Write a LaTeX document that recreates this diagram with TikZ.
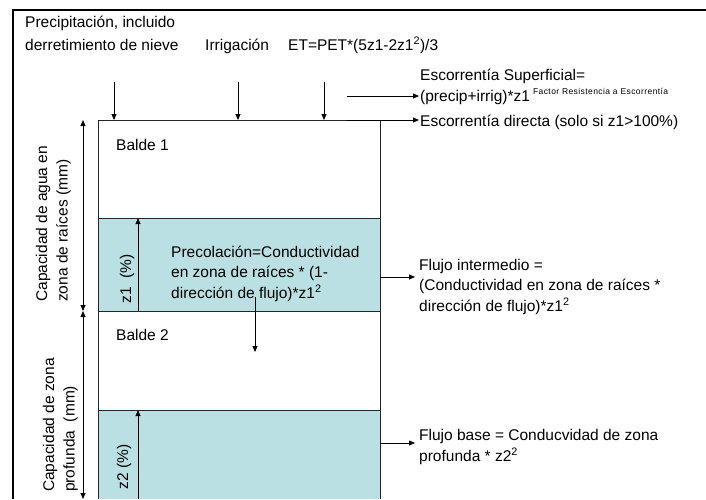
\documentclass[tikz,border=0pt]{standalone}
\usepackage{fontspec}
\setmainfont{Liberation Sans}
\usetikzlibrary{arrows.meta}
\definecolor{bucketcyan}{RGB}{187,224,227}
\tikzset{
  lbl/.style={anchor=base west, inner sep=0pt, font=\fontsize{15.5}{18}\selectfont},
  ml/.style={anchor=base west, inner sep=0pt, align=left, font=\fontsize{15.5}{20.3}\selectfont},
  rot/.style={rotate=90, inner sep=0pt, align=left, font=\fontsize{15.5}{20.5}\selectfont},
  arr/.style={-{Triangle[length=6pt,width=5pt]}, line width=0.8pt},
  dbl/.style={{Triangle[length=6pt,width=5pt]}-{Triangle[length=6pt,width=5pt]}, line width=0.8pt},
  boxline/.style={line width=0.7pt, draw=black!85},
}
\begin{document}
\begin{tikzpicture}[x=1pt,y=-1pt]
\useasboundingbox (0,0) rectangle (706,499);
% outer frame
\draw[line width=2pt] (13,499) -- (13,10) -- (706,10);
% buckets
\fill[bucketcyan] (98,218) rectangle (380,311);
\fill[bucketcyan] (98,410) rectangle (380,499);
\draw[boxline] (98,499) -- (98,120) -- (380,120) -- (380,499);
\draw[boxline] (98,218) -- (380,218);
\draw[boxline] (98,311) -- (380,311);
\draw[boxline] (98,410) -- (380,410);
% top labels
\node[lbl] (prec) at (25,27) {Precipitación, incluido};
\node[lbl] (prec2) at (25,50) {derretimiento de nieve};
\node[lbl] (irr) at (205,50) {Irrigación};
\node[lbl] (et) at (288,50) {ET=PET*(5z1-2z1\textsuperscript{2})/3};
\coordinate (pa) at (114,82); \coordinate (pb) at (114,120);
\coordinate (ia) at (238,82); \coordinate (ib) at (238,120);
\coordinate (ea) at (324,82); \coordinate (eb) at (324,120);
\draw[arr] (pa) -- (pb);
\draw[arr] (ia) -- (ib);
\draw[arr] (ea) -- (eb);
% runoff
\node[lbl] (esc1) at (420,80) {Escorrentía Superficial=};
\node[lbl] (esc2) at (420,101) {(precip+irrig)*z1\hspace{3pt}\raisebox{0.75ex}{\fontsize{8.5}{9}\selectfont\addfontfeatures{LetterSpace=5}Factor Resistencia a Escorrentía}};
\node[lbl] (escd) at (420,126) {Escorrentía directa (solo si z1>100\%)};
\coordinate (s1) at (347,96); \coordinate (s2) at (419,96);
\coordinate (d1) at (347,120); \coordinate (d2) at (419,120);
\draw[arr] (s1) -- (s2);
\draw[arr] (d1) -- (d2);
% bucket labels
\node[lbl] (b1) at (116,150) {Balde 1};
\node[lbl] (b2) at (116,340) {Balde 2};
% capacity arrows
\coordinate (c1) at (83,120); \coordinate (c2) at (83,311); \coordinate (c3) at (83,499);
\draw[dbl] (c1) -- (c2);
\draw[dbl] (c2) -- (c3);
\node[rot, anchor=south west] (cap1) at (71,302) {Capacidad de agua en\\zona de raíces (mm)};
\node[rot, anchor=south west] (cap2) at (78,492) {Capacidad de zona\\profunda\ \ (mm)};
% z arrows
\coordinate (z1a) at (138,311); \coordinate (z1b) at (138,218);
\coordinate (z2a) at (138,499); \coordinate (z2b) at (138,410);
\draw[arr] (z1a) -- (z1b);
\draw[arr] (z2a) -- (z2b);
\node[rot] (z1l) at (127,279) {z1\ \ (\%)};
\node[rot] (z2l) at (124,467) {z2 (\%)};
% percolation (base anchor = last line)
\node[ml] (perc) at (171,298) {Precolación=Conductividad\\en zona de raíces * (1-\\dirección de flujo)*z1\textsuperscript{2}};
\coordinate (pc1) at (255,297); \coordinate (pc2) at (255,352);
\draw[arr] (pc1) -- (pc2);
% interflow
\coordinate (f1) at (380,277); \coordinate (f2) at (415,277);
\draw[arr] (f1) -- (f2);
\node[ml] (fi) at (419,311) {Flujo intermedio =\\(Conductividad en zona de raíces *\\dirección de flujo)*z1\textsuperscript{2}};
% baseflow
\coordinate (g1) at (380,443); \coordinate (g2) at (415,443);
\draw[arr] (g1) -- (g2);
\node[ml] (fb) at (419,461) {Flujo base = Conducvidad de zona\\profunda * z2\textsuperscript{2}};
\end{tikzpicture}
\end{document}
